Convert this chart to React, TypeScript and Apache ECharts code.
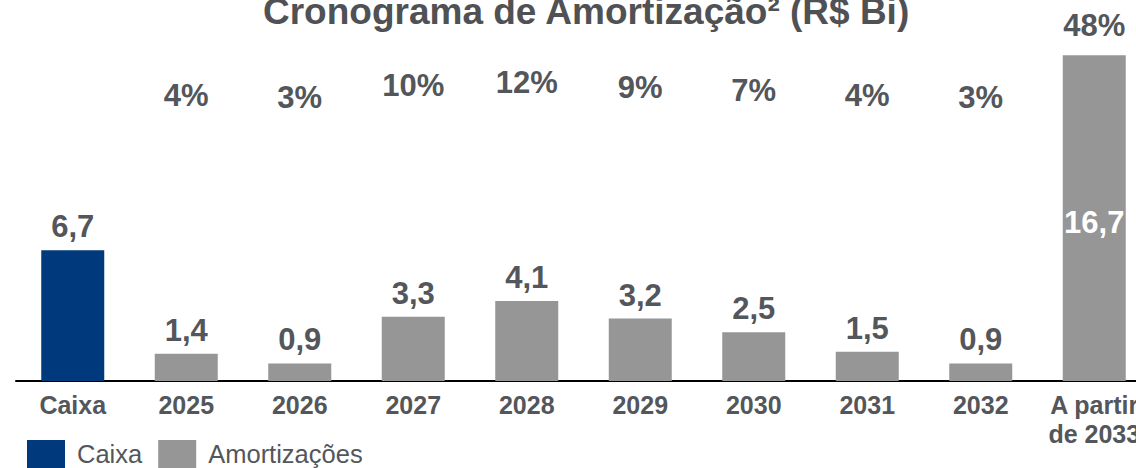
import React, { useEffect, useRef } from "react";
import * as echarts from "echarts";

const categories = ["Caixa", "2025", "2026", "2027", "2028", "2029", "2030", "2031", "2032", "A partir\nde 2033"];
const caixaValues: (number | string)[] = [6.7, "-", "-", "-", "-", "-", "-", "-", "-", "-"];
const amortValues: (number | string)[] = ["-", 1.4, 0.9, 3.3, 4.1, 3.2, 2.5, 1.5, 0.9, 16.7];
const percentValues: (number | string)[] = ["-", 4, 3, 10, 12, 9, 7, 4, 3, 48];
const titleText = "Cronograma de Amortização² (R$ Bi)";

const FONT = "'Liberation Sans', Arial, sans-serif";
const TEXT = "#53565a";
const BLUE = "#003a7d";
const GRAY = "#969696";

const fmt = (v: number) => v.toFixed(1).replace(".", ",");

export default function App() {
  const ref = useRef<HTMLDivElement>(null);
  useEffect(() => {
    if (!ref.current) return;
    const chart = echarts.init(ref.current, null, { renderer: "svg" });
    const lastIdx = amortValues.length - 1;
    const amortData = amortValues.map((v, i) =>
      i === lastIdx
        ? { value: v, label: { position: "inside", color: "#ffffff", offset: [0, 4] } }
        : v
    );
    chart.setOption({
      animation: false,
      textStyle: { fontFamily: FONT },
      title: {
        text: titleText,
        left: 258,
        top: -12,
        textStyle: { fontFamily: FONT, fontSize: 37, fontWeight: "bold", color: "#4f5154" },
      },
      legend: {
        left: 27,
        top: 440,
        padding: 0,
        itemWidth: 38,
        itemHeight: 28,
        itemGap: 16,
        icon: "rect",
        data: ["Caixa", "Amortizações"],
        textStyle: { fontFamily: FONT, fontSize: 25.5, color: TEXT, padding: [0, 7, 0, 7] },
      },
      grid: { left: 16, width: 1135, top: 30, bottom: 87, containLabel: false, outerBoundsMode: "none" },
      xAxis: {
        type: "category",
        data: categories,
        axisLine: { lineStyle: { color: "#000000", width: 2 } },
        axisTick: { show: false },
        axisLabel: {
          interval: 0,
          margin: 9,
          fontFamily: FONT,
          fontSize: 25,
          fontWeight: "bold",
          color: TEXT,
          lineHeight: 29,
        },
      },
      yAxis: [
        { type: "value", min: 0, max: 18, show: false, splitLine: { show: false } },
        { type: "value", min: -174.5, max: 44.875, show: false, splitLine: { show: false } },
      ],
      series: [
        {
          name: "Caixa",
          type: "bar",
          data: caixaValues,
          barWidth: 63,
          barGap: "-100%",
          itemStyle: { color: BLUE },
          label: {
            show: true,
            position: "top",
            distance: 8,
            fontFamily: FONT,
            fontSize: 31,
            fontWeight: "bold",
            color: TEXT,
            formatter: (p: any) => fmt(p.value),
          },
        },
        {
          name: "Amortizações",
          type: "bar",
          data: amortData,
          barWidth: 63,
          barGap: "-100%",
          itemStyle: { color: GRAY },
          label: {
            show: true,
            position: "top",
            distance: 8,
            fontFamily: FONT,
            fontSize: 31,
            fontWeight: "bold",
            color: TEXT,
            formatter: (p: any) => fmt(Number(p.value)),
          },
        },
        {
          name: "pct",
          type: "scatter",
          yAxisIndex: 1,
          data: percentValues,
          symbolSize: 0,
          clip: false,
          silent: true,
          itemStyle: { color: TEXT, opacity: 1 },
          label: {
            show: true,
            position: "inside",
            fontFamily: FONT,
            fontSize: 31,
            fontWeight: "bold",
            color: TEXT,
            opacity: 1,
            formatter: (p: any) => `${p.value}%`,
          },
        },
      ],
    });
    return () => chart.dispose();
  }, []);
  return (
    <div
      ref={ref}
      style={{ position: "fixed", left: 0, top: 0, width: 1136, height: 468, background: "#ffffff" }}
    />
  );
}
